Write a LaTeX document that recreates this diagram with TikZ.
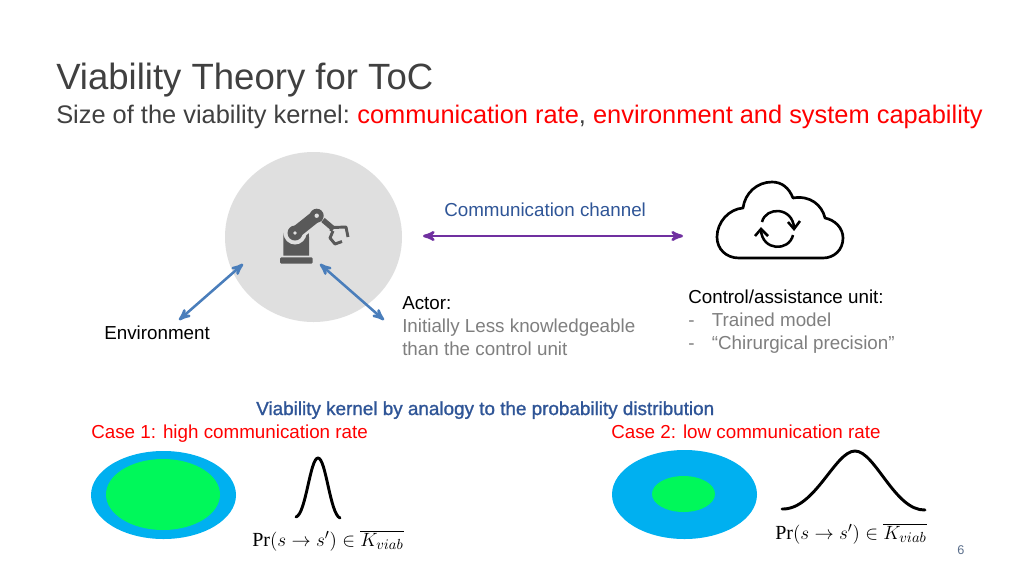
\documentclass[tikz,border=0pt]{standalone}
\usepackage{fontspec}
\setmainfont{Liberation Sans}
\newfontfamily\prfont{Liberation Serif}
\newfontfamily\kernelfont[FakeBold=1.2]{Liberation Sans}
\usetikzlibrary{arrows,positioning,shapes.geometric}
\definecolor{kernelred}{HTML}{FF0000}
\definecolor{chanblue}{HTML}{2F5597}
\definecolor{chanpurple}{HTML}{7030A0}
\definecolor{envblue}{HTML}{4A7EBB}
\definecolor{softgray}{HTML}{7F7F7F}
\definecolor{titlegray}{HTML}{404040}
\definecolor{pageblue}{HTML}{5B6F8C}
\definecolor{actorgray}{HTML}{DFDFDF}
\definecolor{robotgray}{HTML}{595959}
\definecolor{outerblue}{HTML}{00B0F0}
\definecolor{innergreen}{HTML}{00F85A}
\tikzset{
	label/.style={inner sep=0pt, anchor=base west, font=\fontsize{14.1}{17}\selectfont},
	formula/.style={inner sep=0pt, anchor=base west, font=\fontsize{15}{18}\selectfont},
	bell/.style={line width=2.2pt, line cap=round, line join=round},
	link/.style={<->, line width=1.9pt}
}
\begin{document}
\begin{tikzpicture}[x=0.75pt, y=-0.75pt, >=stealth']
	\useasboundingbox (0,0) rectangle (1024,576);
	\fill [white] (0,0) rectangle (1024,576);

	% Title lines
	\node [label, font=\fontsize{27.4}{30}\selectfont, text=titlegray] (title) at (56,89) {Viability Theory for ToC};
	\node [label, font=\fontsize{19.05}{22}\selectfont, text=titlegray] (subtitle) at (56,123) {Size of the viability kernel:\hspace{-1.5pt} \textcolor{kernelred}{communication rate}, \textcolor{kernelred}{environment and system capability}};

	% Actor disc and arm
	\node [ellipse, fill=actorgray, minimum width=132.75pt, minimum height=127.5pt, inner sep=0pt] (actor) at (313.5,237) {};
	\fill [robotgray, rounded corners=1pt] (280,257.3) rectangle (312.7,263.7);
	\fill [robotgray] (283.3,255.5) -- (283.3,238) .. controls (283.3,232) and (285,228) .. (289,225) -- (305,225) .. controls (308,229) and (309,232) .. (309,237) -- (309,255.5) -- cycle;
	\fill [actorgray] (295,233) circle (11.5);
	\draw [actorgray, line width=13pt] (295,233) -- (316.7,215.7);
	\draw [robotgray, line width=9pt] (295,233) -- (316.7,215.7);
	\fill [robotgray] (295,233) circle (7.5);
	\fill [robotgray] (316.7,215.7) circle (7);
	\fill [actorgray] (316.7,215.7) circle (2.2);
	\fill [actorgray] (295,233) circle (1.8);
	\draw [robotgray, line width=4pt] (323,220) -- (333,228.5);
	\draw [robotgray, line width=2.2pt, line join=round] (330.5,231) -- (333,227.5) -- (346,227) -- (348,237);
	\draw [robotgray, line width=2.2pt, line join=round] (333,231) -- (330,238) -- (335,244) -- (342,241.5);

	% Cloud and sync arrows
	\draw [line width=2pt, line join=round] (739,258) .. controls (726,258) and (717,249) .. (717,237) .. controls (717,222) and (729,209) .. (743,208) .. controls (745,193) and (757,182) .. (772,182) .. controls (782,182) and (789,188) .. (793,198) .. controls (810,195) and (822,205) .. (825,218) .. controls (835,220) and (843,228) .. (843,238) .. controls (843,250) and (834,258) .. (823,258) -- cycle;
	\draw [line width=1.9pt] (762,222) .. controls (766,206) and (793,207) .. (794,228);
	\draw [line width=1.9pt] (761,230) .. controls (762,251) and (789,252) .. (793,235);
	\draw [line width=1.9pt, line join=miter] (788,222) -- (794,229) -- (800,221);
	\draw [line width=1.9pt, line join=miter] (755,236) -- (761,229) -- (768,236);

	% Labels
	\node [label, text=chanblue] (channel) at (444,216) {Communication channel};
	\node [label] (environment) at (104,339) {Environment};
	\node [label] (actortitle) at (402,309) {Actor:};
	\node [label, text=softgray] (actorone) at (402,332) {Initially Less knowledgeable};
	\node [label, text=softgray] (actortwo) at (402,355) {than the control unit};
	\node [label] (unittitle) at (688,303) {Control/assistance unit:};
	\node [label, text=softgray] (unitone) at (688,326) {-\hspace{13pt}Trained model};
	\node [label, text=softgray] (unittwo) at (688,349) {-\hspace{13pt}“Chirurgical precision”};
	\node [label, text=chanblue, font=\fontsize{14.15}{17}\kernelfont] (kernel) at (256,415) {Viability kernel by analogy to the probability distribution};
	\node [label, text=kernelred] (caseone) at (91,438) {Case 1: high communication rate};
	\node [label, text=kernelred] (casetwo) at (611,438) {Case 2: low communication rate};
	\node [label, text=pageblue, font=\fontsize{9.5}{11}\selectfont] (page) at (957,554) {6};

	% Kernel sets
	\fill [outerblue] (163.5,495) ellipse (72.5 and 44);
	\fill [innergreen] (163,494.5) ellipse (57 and 35.5);
	\fill [outerblue] (684.5,494.5) ellipse (72.5 and 44.5);
	\fill [innergreen] (683.5,494) ellipse (31.5 and 18);

	% Distributions
	\draw [bell] (296,517) .. controls (306,514) and (310,458) .. (318,458) .. controls (326,458) and (330,514) .. (340,518);
	\draw [bell] (782,509) .. controls (815,510) and (835,451) .. (855,451) .. controls (875,451) and (895,511) .. (925,510);
	\node [formula] (prone) at (252,546) {{\prfont Pr}$(s\rightarrow s')\in\overline{K_{viab}}$};
	\node [formula] (prtwo) at (775,539) {{\prfont Pr}$(s\rightarrow s')\in\overline{K_{viab}}$};

	% Connector ends
	\coordinate (chanleft) at (423,236);
	\coordinate (chanright) at (683,236);
	\coordinate (envend) at (179,320);
	\coordinate (envstart) at (243,264);
	\coordinate (actstart) at (320,264);
	\coordinate (actend) at (384,320);

	% Paths
	\path [link, chanpurple] (chanleft) edge (chanright);
	\path [link, envblue] (envstart) edge (envend);
	\path [link, envblue] (actstart) edge (actend);
\end{tikzpicture}
\end{document}
